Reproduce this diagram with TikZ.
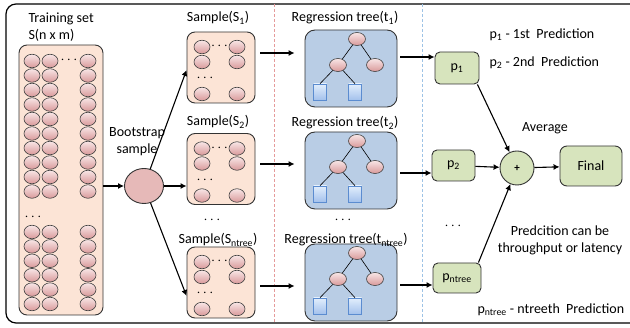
\documentclass[tikz,border=0pt]{standalone}
\usepackage{fontspec}
\setmainfont{Carlito}
\usetikzlibrary{arrows.meta}
\usetikzlibrary{shapes.geometric}

\definecolor{peach}{HTML}{FCE4D6}
\definecolor{pinkL}{HTML}{F8E6E6}
\definecolor{pinkD}{HTML}{D9999A}
\definecolor{bootpink}{HTML}{E6B9B8}
\definecolor{treeblue}{HTML}{B9CDE5}
\definecolor{leafL}{HTML}{E2EEFC}
\definecolor{leafD}{HTML}{A3C1EC}
\definecolor{leafedge}{HTML}{5B8CD0}
\definecolor{pgreen}{HTML}{D7E4BD}
\definecolor{redline}{HTML}{E59A9A}
\definecolor{blueline}{HTML}{9DC3E6}

\tikzset{
  every node/.style={font=\fontsize{14}{17}\selectfont},
  dot/.style={ellipse, draw=black!75, line width=0.6pt, top color=pinkL, bottom color=pinkD,
    minimum width=16pt, minimum height=13.5pt, inner sep=0pt},
  databox/.style={draw=black!80, line width=0.9pt, fill=peach, rounded corners=8pt},
  treebox/.style={draw=black!80, line width=0.9pt, fill=treeblue, rounded corners=10pt,
    minimum width=92pt, minimum height=77pt},
  leaf/.style={draw=leafedge, line width=0.6pt, top color=leafL, bottom color=leafD,
    minimum width=13pt, minimum height=16pt, inner sep=0pt},
  pbox/.style={draw=black!80, line width=0.9pt, fill=pgreen, rounded corners=5pt, inner sep=0pt},
  arr/.style={-{Latex[length=6pt,width=6pt]}, line width=1.1pt},
  sepline/.style={dash pattern=on 3pt off 2pt, line width=0.8pt}
}

\begin{document}
\begin{tikzpicture}[x=1pt, y=-1pt]

\useasboundingbox (0,0) rectangle (630,328);
\clip (0,0) rectangle (630,328);

\draw[line width=1.2pt, rounded corners=10pt] (6,4) rectangle (660,323);
\draw[sepline, redline] (274,4) -- (274,323);
\draw[sepline, blueline] (422,4) -- (422,323);

% training set
\node[anchor=west, align=left] (trainlbl) at (25,27) {Training set\\S(n x m)};
\node[databox, minimum width=84pt, minimum height=270pt] (train) at (61,180) {};
\node (trdots) at (69,60) {$\cdots$};
\node (trvdots) at (33,217) {$\cdots$};
\foreach \x [count=\c] in {32,50,88}{
  \foreach \y [count=\r] in {61,75.5,...,192}
    \node[dot] (tr\c-\r) at (\x,\y) {};
  \foreach \y [count=\r] in {232,246.4,...,305}
    \node[dot] (tb\c-\r) at (\x,\y) {};
}

% bootstrap
\node[align=center] (bootlbl) at (137,142) {Bootstrap\\sample};
\node[ellipse, draw=black!80, line width=0.9pt, fill=bootpink, minimum width=39pt, minimum height=35pt] (boot) at (144,186) {};

% samples
\foreach \cy [count=\i] in {67.5,169,282.5}{
  \node[databox, minimum width=68pt, minimum height=71pt] (s\i) at (221,\cy) {};
  \node (s\i-dots) at ([shift={(-1.5,-21)}]s\i.center) {$\cdots$};
  \node (s\i-vdots) at ([shift={(-16,11)}]s\i.center) {$\cdots$};
  \foreach \dx/\dy [count=\k] in {-19/-20.5, 16/-20.5, -19/-5.5, 16/-5.5, -19/26.5, 16/26.5}
    \node[dot] (s\i-\k) at ([shift={(\dx,\dy)}]s\i.center) {};
}
\node (s1lbl) at (218,18) {Sample(S\textsubscript{1})};
\node (s2lbl) at (218,122) {Sample(S\textsubscript{2})};
\node (sdots) at (212,220) {$\cdots$};
\node (s3lbl) at (218,240) {Sample(S\textsubscript{ntree})};

% regression trees
\foreach \cy [count=\i] in {68.5,170.5,282.5}{
  \node[treebox] (t\i) at (351,\cy) {};
  \node[dot, minimum width=17pt, minimum height=13pt] (t\i-root) at ([shift={(6,-29.5)}]t\i.center) {};
  \node[dot, minimum width=17pt, minimum height=13pt] (t\i-left) at ([shift={(-13,-3.5)}]t\i.center) {};
  \node[dot, minimum width=17pt, minimum height=13pt] (t\i-right) at ([shift={(24,-3.5)}]t\i.center) {};
  \node[leaf] (t\i-leafa) at ([shift={(-31,23.5)}]t\i.center) {};
  \node[leaf] (t\i-leafb) at ([shift={(4,23.5)}]t\i.center) {};
  \draw[line width=0.6pt] (t\i-root) -- (t\i-left);
  \draw[line width=0.6pt] (t\i-root) -- (t\i-right);
  \draw[line width=0.6pt] (t\i-left) -- (t\i-leafa.north);
  \draw[line width=0.6pt] (t\i-left) -- (t\i-leafb.north);
}
\node (t1lbl) at (345,18) {Regression tree(t\textsubscript{1})};
\node (t2lbl) at (345,123) {Regression tree(t\textsubscript{2})};
\node (tdots) at (343,220) {$\cdots$};
\node (t3lbl) at (346,240) {Regression tree(t\textsubscript{ntree})};

% predictions
\node[pbox, minimum width=44pt, minimum height=32pt] (p1) at (457,68) {p\textsubscript{1}};
\node[pbox, minimum width=43pt, minimum height=31pt] (p2) at (453.5,165.5) {p\textsubscript{2}};
\node (pdots) at (453,226) {$\cdots$};
\node[pbox, minimum width=48pt, minimum height=30pt] (p3) at (457,278) {p\textsubscript{ntree}};
\node[circle, draw=black!80, line width=0.9pt, fill=pgreen, minimum size=34pt, inner sep=0pt] (avg) at (517,168) {\fontsize{11}{12}\selectfont\bfseries +};
\node[pbox, rounded corners=7pt, minimum width=62pt, minimum height=40pt] (final) at (591,166) {Final};

\node (avglbl) at (545,128) {Average};
\node[anchor=west] (leg1) at (486,35) {p\textsubscript{1} - 1st\ \ Prediction};
\node[anchor=west] (leg2) at (486,63) {p\textsubscript{2} - 2nd\ \ Prediction};
\node[align=center] (note) at (560,240) {Predcition can be\\throughput or latency};
\node[anchor=west] (leg3) at (474,310) {p\textsubscript{ntree} - ntreeth\ \ Prediction};

% connectors
\draw[arr] (train.east |- boot) -- (boot.west);
\draw[arr] (boot) -- ([yshift=-2.5pt]s1.west);
\draw[arr] (boot) -- (boot -| s2.west);
\draw[arr] (boot) -- ([yshift=-13.5pt]s3.west);
\draw[arr, shorten <=5pt, shorten >=10pt] ([yshift=14.5pt]s1.east) -- ([yshift=14.5pt]s1.east -| t1.west);
\draw[arr, shorten <=5pt, shorten >=10pt] ([yshift=5pt]s2.east) -- ([yshift=5pt]s2.east -| t2.west);
\draw[arr, shorten <=5pt, shorten >=10pt] ([yshift=-3.5pt]s3.east) -- ([yshift=-3.5pt]s3.east -| t3.west);
\draw[arr, shorten <=3pt] ([yshift=11.5pt]t1.east) -- ([yshift=11.5pt]t1.east -| p1.west);
\draw[arr, shorten <=3pt] ([yshift=-2.5pt]t2.east) -- ([yshift=-2.5pt]t2.east -| p2.west);
\draw[arr, shorten <=3pt] ([yshift=-2.5pt]t3.east) -- ([yshift=-2.5pt]t3.east -| p3.west);
\draw[arr] ([xshift=-2pt]p1.south east) -- (avg);
\draw[arr] (p2) -- (avg);
\draw[arr] ([xshift=-3pt]p3.north east) -- (avg);
\draw[arr] (avg) -- (final);

\end{tikzpicture}
\end{document}
